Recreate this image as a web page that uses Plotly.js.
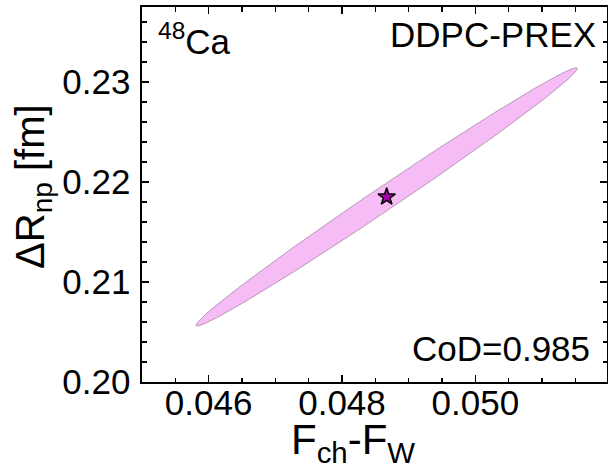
<!DOCTYPE html>
<html>
<head>
<meta charset="utf-8">
<script src="https://cdn.plot.ly/plotly-3.0.1.min.js"></script>
<style>html,body{margin:0;padding:0;background:#fff;}#plot{width:608px;height:472px;}</style>
</head>
<body>
<div id="plot"></div>
<script>
// ---- data ----
var centerX = [0.04867];      // F_ch - F_W best value (star)
var centerY = [0.21850];      // Delta R_np [fm] best value (star)
var sigmaX = 0.00286;         // half-extent of the ellipse along x
var sigmaY = 0.01290;         // half-extent of the ellipse along y
var rho = 0.994;              // correlation
var codLabel = 'CoD=0.985';   // coefficient of determination shown in the panel
var xTick0 = 0.046, xDtick = 0.002, xMinor = 0.0005;
var yTick0 = 0.20, yDtick = 0.01, yMinor = 0.002;

// ellipse contour of the correlated distribution
var ex = [], ey = [];
var N = 240;
for (var i = 0; i <= N; i++) {
  var t = 2 * Math.PI * i / N;
  ex.push(centerX[0] + sigmaX * Math.cos(t));
  ey.push(centerY[0] + sigmaY * (rho * Math.cos(t) + Math.sqrt(1 - rho * rho) * Math.sin(t)));
}

var FONT = 'Liberation Sans, Arial, Helvetica, sans-serif';

var traces = [
  {
    x: ex, y: ey, type: 'scatter', mode: 'lines', fill: 'toself',
    fillcolor: 'rgb(246,188,246)',
    line: {color: 'rgb(185,150,185)', width: 1},
    hoverinfo: 'skip', showlegend: false
  },
  {
    x: centerX, y: centerY, type: 'scatter', mode: 'markers',
    marker: {symbol: 'star', size: 13, color: 'rgb(170,0,170)', line: {color: '#000', width: 1.5}},
    showlegend: false
  }
];

var W = 608, H = 472;
var L = 141.7, R = 1, T = 6.7, B = 89.7;

var layout = {
  width: W, height: H,
  margin: {l: L, r: R, t: T, b: B, pad: 0},
  paper_bgcolor: '#fff', plot_bgcolor: '#fff',
  font: {family: FONT, color: '#000'},
  showlegend: false,
  xaxis: {
    range: [0.045, 0.051975],
    tickmode: 'linear', tick0: xTick0, dtick: xDtick, tickformat: '.3f',
    ticks: 'inside', ticklen: 7, tickwidth: 1.6, tickcolor: '#000',
    minor: {tick0: xTick0, dtick: xMinor, ticks: 'inside', ticklen: 4.5, tickwidth: 1.4, tickcolor: '#000', showgrid: false},
    showline: true, linecolor: '#000', linewidth: 1.6, mirror: 'allticks',
    showgrid: false, zeroline: false,
    tickfont: {size: 35, family: FONT, color: '#000'},
    ticklabelstandoff: -11
  },
  yaxis: {
    range: [0.20, 0.23748],
    tickmode: 'linear', tick0: yTick0, dtick: yDtick, tickformat: '.2f',
    ticks: 'inside', ticklen: 7, tickwidth: 1.6, tickcolor: '#000',
    minor: {tick0: yTick0, dtick: yMinor, ticks: 'inside', ticklen: 4.5, tickwidth: 1.4, tickcolor: '#000', showgrid: false},
    showline: true, linecolor: '#000', linewidth: 1.6, mirror: 'allticks',
    showgrid: false, zeroline: false,
    tickfont: {size: 35, family: FONT, color: '#000'},
    ticklabelstandoff: 3
  },
  annotations: [
    {text: 'DDPC-PREX', xref: 'paper', yref: 'paper', x: 0.9813, y: 0.9268,
     xanchor: 'right', yanchor: 'middle', showarrow: false, font: {size: 35, family: FONT, color: '#000'}},
    {text: '<sup>48</sup>Ca', xref: 'paper', yref: 'paper', x: 0.0307, y: 0.915,
     xanchor: 'left', yanchor: 'middle', showarrow: false, font: {size: 35, family: FONT, color: '#000'}},
    {text: codLabel, xref: 'paper', yref: 'paper', x: 0.9671, y: 0.0900,
     xanchor: 'right', yanchor: 'middle', showarrow: false, font: {size: 35, family: FONT, color: '#000'}},
    {text: 'F<sub>ch</sub>-F<sub>W</sub>', xref: 'paper', yref: 'paper', x: (353 - L) / (W - L - R), y: -0.162,
     xanchor: 'center', yanchor: 'middle', showarrow: false, font: {size: 42, family: FONT, color: '#000'}},
    {text: '\u0394R<sub>np</sub> [fm]', xref: 'paper', yref: 'paper', x: -0.2347, y: 0.5226, textangle: -90,
     xanchor: 'center', yanchor: 'middle', showarrow: false, font: {size: 40, family: FONT, color: '#000'}}
  ]
};

Plotly.newPlot('plot', traces, layout, {staticPlot: true, displayModeBar: false});
</script>
</body>
</html>
